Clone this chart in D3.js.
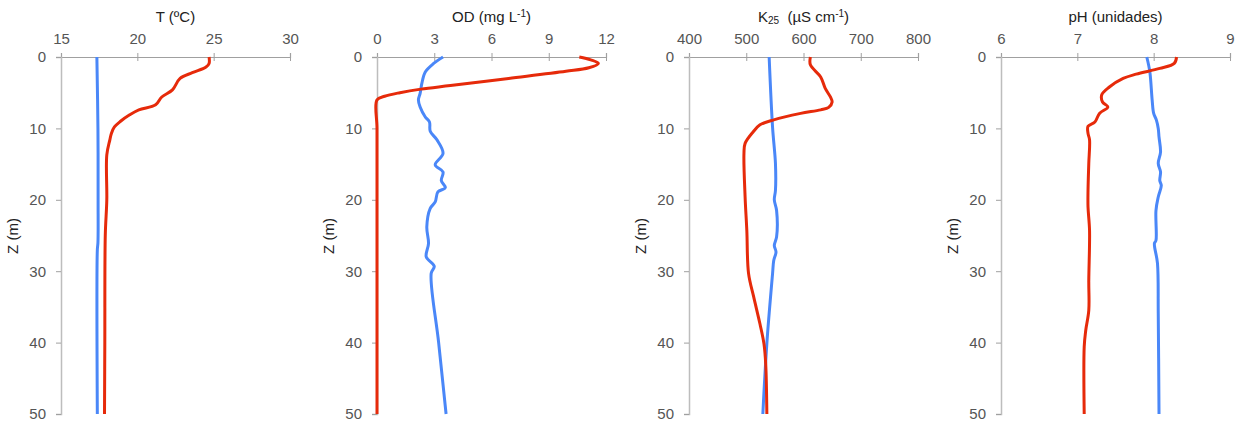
<!DOCTYPE html>
<html>
<head>
<meta charset="utf-8">
<script src="https://cdn.jsdelivr.net/npm/d3@7"></script>
<style>
body { margin: 0; background: #fff; }
text { font-family: "Liberation Sans", Arial, sans-serif; }
</style>
</head>
<body>
<svg></svg>
<script>
//colours
var red = "#e62a0a";
var blue = "#4a87f8";

var svgWidth = 1243, svgHeight = 425;
var svg = d3.select("svg").attr("width", svgWidth).attr("height", svgHeight);

// depth ticks (shared)
var depthTicks = [0, 10, 20, 30, 40, 50];

// panel 1 - temperature
var tTicks = [15, 20, 25, 30];
var tRedZ = [0, 0.9, 1.4, 2.2, 3.0, 4.6, 5.6, 6.7, 7.4, 8.1, 9.0, 9.8, 10.7, 11.6, 13.7, 20, 25, 40, 50];
var tRedV = [24.7, 24.7, 24.5, 23.6, 22.8, 22.3, 21.6, 21.2, 20.1, 19.5, 18.9, 18.5, 18.3, 18.2, 18.0, 18.0, 17.9, 17.87, 17.85];
var tBlueZ = [0, 10, 20, 26, 27, 50];
var tBlueV = [17.35, 17.42, 17.43, 17.42, 17.38, 17.38];

// panel 2 - dissolved oxygen
var odTicks = [0, 3, 6, 9, 12];
var odRedZ = [0, 0.4, 0.9, 1.5, 2, 3, 4, 4.5, 5, 5.5, 6, 10, 20, 30, 40, 50];
var odRedV = [10.6, 11.2, 11.6, 11.1, 9.9, 6.9, 3.85, 2.3, 1.2, 0.4, 0, 0, 0, 0, 0, 0];
var odBlueZ = [0, 0.9, 2.1, 3.7, 5.1, 6.0, 7.0, 8.4, 9.1, 10.4, 11.6, 13.5, 15.1, 16.1, 17.3, 18.3, 18.9, 20.3, 21.2, 23.8, 26.1, 28.0, 29.3, 30.3, 40, 50];
var odBlueV = [3.46, 2.97, 2.53, 2.35, 2.26, 2.17, 2.26, 2.53, 2.75, 2.79, 3.14, 3.46, 3.05, 3.46, 3.37, 3.58, 3.19, 3.05, 2.79, 2.61, 2.7, 2.58, 3.0, 2.84, 3.23, 3.62];

// panel 3 - conductivity
var kTicks = [400, 500, 600, 700, 800];
var kRedZ = [0, 1.1, 2.8, 4.4, 5.6, 6.3, 7.06, 7.4, 7.9, 8.8, 9.5, 10.5, 12.1, 13.5, 19.6, 24.3, 30.3, 33.6, 37.4, 40.2, 43, 50];
var kRedV = [612, 612, 630, 638, 647, 650, 644, 630, 595, 548, 524, 512, 498, 496, 498, 501, 504, 513, 524, 531, 534, 536];
var kBlueZ = [0, 9.9, 14.9, 18.7, 20, 21.5, 25.2, 26.4, 27.3, 28.5, 30.3, 40.1, 50];
var kBlueV = [540, 546, 551, 551, 549, 553, 553, 549, 552, 548, 546, 536, 529];

// panel 4 - pH
var phTicks = [6, 7, 8, 9];
var phRedZ = [0, 0.9, 1.6, 2.4, 3.0, 4.2, 5.3, 6.3, 7.0, 7.9, 9.1, 9.7, 10.7, 11.6, 14.9, 18.7, 21, 24.3, 31.3, 35.5, 38.3, 40.6, 50];
var phRedV = [8.30, 8.27, 8.08, 7.77, 7.60, 7.42, 7.32, 7.33, 7.40, 7.29, 7.23, 7.14, 7.14, 7.16, 7.15, 7.14, 7.14, 7.16, 7.15, 7.15, 7.11, 7.09, 7.09];
var phBlueZ = [0, 2.1, 6.0, 7.9, 8.8, 10, 11.2, 13.3, 14.9, 16.1, 17.3, 18, 19.6, 21.5, 25.7, 26.1, 28.9, 35.9, 50];
var phBlueV = [7.91, 7.95, 7.98, 8.0, 8.035, 8.06, 8.07, 8.09, 8.06, 8.09, 8.08, 8.10, 8.06, 8.03, 8.03, 8.01, 8.05, 8.06, 8.07];

var panels = [
    {x0: 61, ticks: tTicks, title: "T (ºC)", red: [tRedZ, tRedV], blue: [tBlueZ, tBlueV]},
    {x0: 377, ticks: odTicks, title: "OD", red: [odRedZ, odRedV], blue: [odBlueZ, odBlueV]},
    {x0: 689, ticks: kTicks, title: "K", red: [kRedZ, kRedV], blue: [kBlueZ, kBlueV]},
    {x0: 1001, ticks: phTicks, title: "pH (unidades)", red: [phRedZ, phRedV], blue: [phBlueZ, phBlueV]}
];

var plotW = 229;
var yScale = d3.scaleLinear().domain([0, 50]).range([57, 414]);

panels.forEach(function(p, idx) {
    var xScale = d3.scaleLinear()
        .domain([p.ticks[0], p.ticks[p.ticks.length - 1]])
        .range([p.x0, p.x0 + plotW]);

    // top axis
    var gx = svg.append("g")
        .attr("transform", "translate(0," + yScale(0) + ")")
        .call(d3.axisTop(xScale).tickValues(p.ticks).tickFormat(d3.format("d")).tickSize(4).tickPadding(9));
    gx.select(".domain").attr("stroke", "#a0a0a0").attr("stroke-width", 1.2);
    gx.selectAll(".tick line").attr("stroke", "#a0a0a0").attr("y1", 4).attr("y2", -4);
    gx.selectAll(".tick text").attr("fill", "#555").attr("font-size", 15);

    // left axis
    var gy = svg.append("g")
        .attr("transform", "translate(" + p.x0 + ",0)")
        .call(d3.axisLeft(yScale).tickValues(depthTicks).tickSizeOuter(0).tickSize(5).tickPadding(10));
    gy.select(".domain").attr("stroke", "#bdbdbd").attr("stroke-width", 1.5);
    gy.selectAll(".tick line").attr("stroke", "#a0a0a0");
    gy.selectAll(".tick text").attr("fill", "#555").attr("font-size", 15);

    // Z label
    svg.append("text")
        .attr("transform", "translate(" + (p.x0 - 43) + "," + 236 + ") rotate(-90)")
        .attr("text-anchor", "middle")
        .attr("font-size", 15)
        .attr("fill", "#222")
        .text("Z (m)");

    // title
    var cx = p.x0 + plotW / 2;
    var t = svg.append("text")
        .attr("x", cx).attr("y", 22)
        .attr("text-anchor", "middle")
        .attr("font-size", 15)
        .attr("fill", "#222");
    if (p.title == "OD") {
        t.append("tspan").text("OD (mg L");
        t.append("tspan").attr("font-size", 10).attr("dy", -5).text("-1");
        t.append("tspan").attr("dy", 5).text(")");
    } else if (p.title == "K") {
        t.append("tspan").text("K");
        t.append("tspan").attr("font-size", 10).attr("dy", 2).text("25");
        t.append("tspan").attr("dy", -2).text("\u00a0\u00a0(µS cm");
        t.append("tspan").attr("font-size", 10).attr("dy", -5).text("-1");
        t.append("tspan").attr("dy", 5).text(")");
    } else {
        t.text(p.title);
    }

    // curves
    var line = d3.line()
        .x(function(d) { return xScale(d[1]); })
        .y(function(d) { return yScale(d[0]); })
        .curve(d3.curveCatmullRom.alpha(0.5));

    [[p.blue, blue], [p.red, red]].forEach(function(s) {
        var pts = d3.zip(s[0][0], s[0][1]);
        svg.append("path")
            .attr("d", line(pts))
            .attr("fill", "none")
            .attr("stroke", s[1])
            .attr("stroke-width", 3)
            .attr("stroke-linejoin", "round");
    });
});
</script>
</body>
</html>
